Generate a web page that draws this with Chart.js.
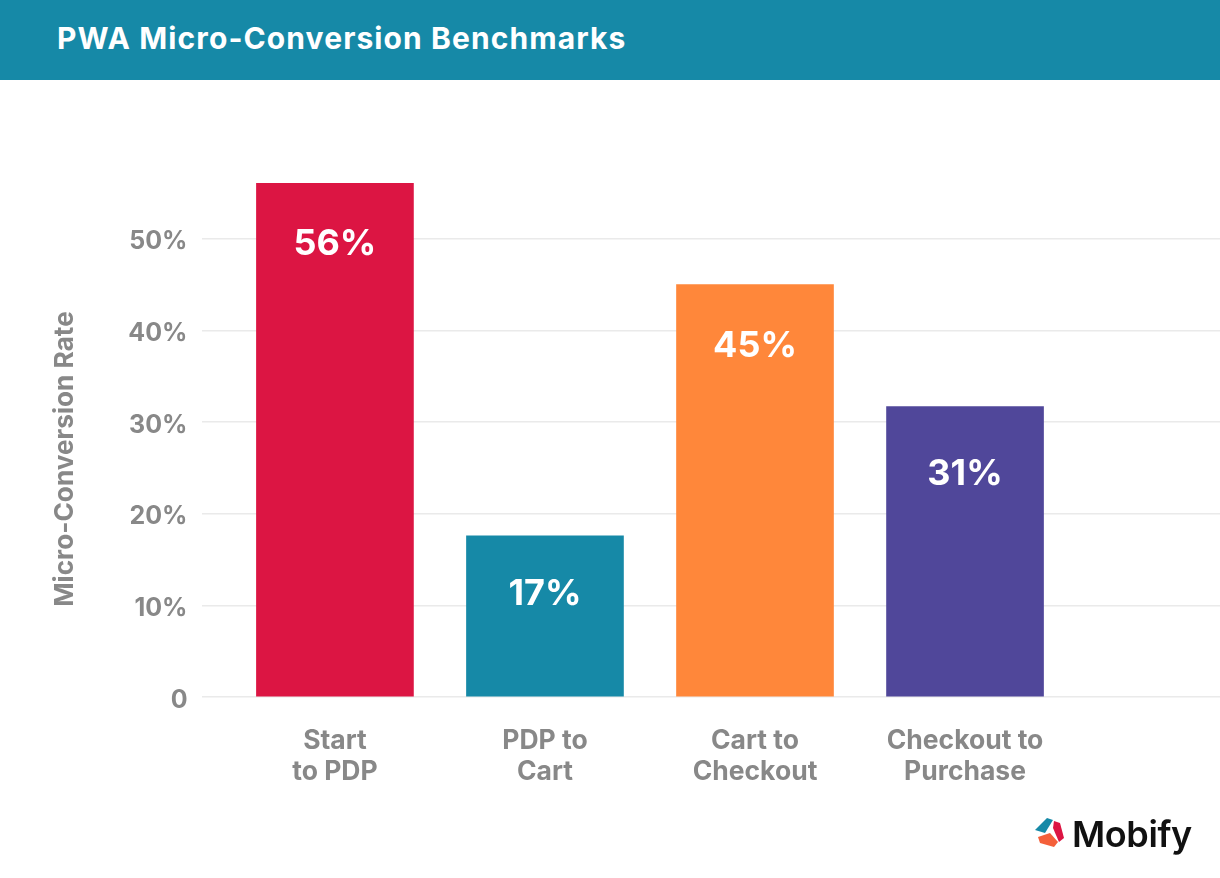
<!DOCTYPE html>
<html>
<head>
<meta charset="utf-8">
<title>PWA Micro-Conversion Benchmarks</title>
<script src="https://cdn.jsdelivr.net/npm/chart.js@4/dist/chart.umd.min.js"></script>
<style>
  html, body { margin: 0; padding: 0; background: #fff; }
  #page { position: relative; width: 1220px; height: 878px; overflow: hidden; }
  #band { position: absolute; left: 0; top: 0; width: 1220px; height: 80px; background: #1689A7; }
  #band h1 { position: absolute; left: 57px; top: 19px; margin: 0; color: #fff; font: 700 30px/38px Inter, sans-serif; letter-spacing: 1.1px; white-space: nowrap; }
  #mainChart { position: absolute; left: 0; top: 0; }
  #logo { position: absolute; left: 1034px; top: 814px; }
  #logoText { position: absolute; left: 1072px; top: 809px; color: #111; font: 600 36px/50px Inter, sans-serif; letter-spacing: -0.4px; }
</style>
</head>
<body>
<div id="page">
  <canvas id="mainChart" width="1220" height="878"></canvas>
  <div id="band"><h1>PWA Micro-Conversion Benchmarks</h1></div>
  <svg id="logo" width="36" height="36" viewBox="0 0 36 36">
    <polygon points="1,16 13,4 19,6 11,19" fill="#1689A7"/>
    <polygon points="20,7 26,9 30,24 25,28 19,14" fill="#DC1543"/>
    <polygon points="4,23 16,19 24,28 20,33 6,29" fill="#F4603A"/>
  </svg>
  <div id="logoText">Mobify</div>
</div>
<script>
// ============ DATA ============

const categories = [['Start', 'to PDP'], ['PDP to', 'Cart'], ['Cart to', 'Checkout'], ['Checkout to', 'Purchase']];
const seriesValues = [56.1, 17.6, 45, 31.7];
const valueLabels = ['56%', '17%', '45%', '31%'];
const barColors = ['#DC1543', '#1689A7', '#FF873A', '#50479A'];
const yAxisTitle = 'Micro-Conversion Rate';

// ============ PLUGINS ============

const labelDrop = [61, 58, 61, 68];

const barLabelPlugin = {
    id: 'barLabels',
    afterDatasetsDraw(chart) {
        const ctx = chart.ctx;
        ctx.save();
        ctx.fillStyle = '#fff';
        ctx.font = '700 36px Inter, sans-serif';
        ctx.textAlign = 'center';
        ctx.textBaseline = 'middle';
        chart.getDatasetMeta(0).data.forEach((bar, i) => {
            ctx.fillText(valueLabels[i], bar.x, bar.y + labelDrop[i]);
        });
        ctx.restore();
    }
};

const axisTitlePlugin = {
    id: 'axisTitle',
    afterDraw(chart) {
        const ctx = chart.ctx;
        ctx.save();
        ctx.translate(65, 459);
        ctx.rotate(-Math.PI / 2);
        ctx.fillStyle = '#888';
        ctx.font = '700 26.2px Inter, sans-serif';
        ctx.textAlign = 'center';
        ctx.textBaseline = 'middle';
        ctx.fillText(yAxisTitle, 0, 0);
        ctx.restore();
    }
};

// ============ CHART ============

new Chart(document.getElementById('mainChart').getContext('2d'), {
    type: 'bar',
    data: {
        datasets: [{
            data: seriesValues.map((v, i) => ({ x: i, y: v })),
            backgroundColor: barColors,
            barThickness: 157
        }]
    },
    options: {
        responsive: false,
        animation: false,
        devicePixelRatio: 1,
        layout: { padding: { top: 183, left: 0, right: 0, bottom: 0 } },
        plugins: { legend: { display: false }, tooltip: { enabled: false } },
        scales: {
            x: {
                type: 'linear',
                offset: false,
                min: -0.633,
                max: 4.214,
                grid: { display: false },
                border: { display: false },
                afterFit(scale) { scale.height = 181; },
                ticks: {
                    stepSize: 1,
                    includeBounds: false,
                    autoSkip: false,
                    maxRotation: 0,
                    padding: 21,
                    color: '#888',
                    font: { family: 'Inter, sans-serif', size: 26.5, weight: '700', lineHeight: 1.17 },
                    callback: (value) => categories[value] || ''
                }
            },
            y: {
                min: 0,
                max: 56.1,
                grid: { color: '#EAEAEA', lineWidth: 1.5, drawTicks: false },
                border: { display: false },
                afterFit(scale) { scale.width = 202; },
                ticks: {
                    stepSize: 10,
                    includeBounds: false,
                    padding: 14.5,
                    labelOffset: 3,
                    color: '#888',
                    font: { family: 'Inter, sans-serif', size: 25, weight: '700' },
                    callback: (value) => value === 0 ? '0' : value + '%'
                }
            }
        }
    },
    plugins: [barLabelPlugin, axisTitlePlugin]
});
</script>
</body>
</html>
